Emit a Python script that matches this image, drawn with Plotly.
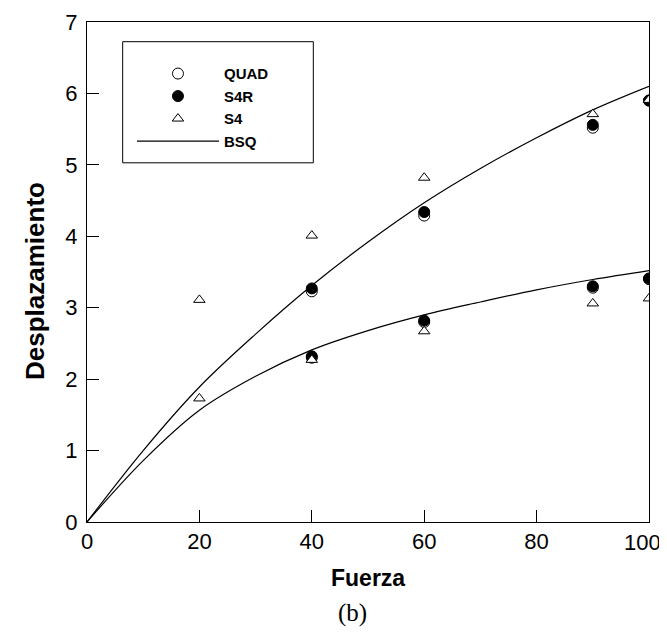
import plotly.graph_objects as go

# BSQ curves
bsq_x = [0, 10, 20, 30, 40, 50, 60, 70, 80, 90, 100]
bsq_upper = [0, 1.00, 1.89, 2.63, 3.31, 3.92, 4.47, 4.95, 5.38, 5.77, 6.10]
bsq_lower = [0, 0.86, 1.565, 2.04, 2.41, 2.68, 2.90, 3.08, 3.25, 3.395, 3.52]

# QUAD (open circles)
quad_x = [40, 60, 90, 100, 40, 60, 90, 100]
quad_y = [3.23, 4.29, 5.52, 5.90, 2.30, 2.80, 3.28, 3.40]

# S4R (filled circles)
s4r_x = [40, 60, 90, 100, 40, 60, 90, 100]
s4r_y = [3.27, 4.34, 5.56, 5.90, 2.32, 2.82, 3.30, 3.41]

# S4 (open triangles)
s4_x = [20, 40, 60, 90, 100, 20, 40, 60, 90, 100]
s4_y = [3.11, 4.01, 4.82, 5.71, 5.91, 1.73, 2.27, 2.67, 3.06, 3.13]

x_ticks = [0, 20, 40, 60, 80, 100]
x_ticktext = ["0", "20", "40", "60", "80", ""]   # last label placed so it fits the page
last_x_label = "100"
y_ticks = [0, 1, 2, 3, 4, 5, 6, 7]

fig = go.Figure()
fig.add_trace(go.Scatter(x=bsq_x, y=bsq_upper, mode="lines", name="BSQ",
                         line=dict(color="black", width=1.2, shape="spline"),
                         legendgroup="bsq", legendrank=4))
fig.add_trace(go.Scatter(x=bsq_x, y=bsq_lower, mode="lines", name="BSQ",
                         line=dict(color="black", width=1.2, shape="spline"),
                         legendgroup="bsq", showlegend=False))
fig.add_trace(go.Scatter(x=quad_x, y=quad_y, mode="markers", name="QUAD",
                         marker=dict(symbol="circle", size=11, color="white",
                                     line=dict(color="black", width=1)),
                         legendrank=1))
fig.add_trace(go.Scatter(x=s4r_x, y=s4r_y, mode="markers", name="S4R",
                         marker=dict(symbol="circle", size=11, color="black",
                                     line=dict(color="black", width=1)),
                         legendrank=2))
fig.add_trace(go.Scatter(x=s4_x, y=s4_y, mode="markers", name="S4",
                         marker=dict(symbol="triangle-up", size=10, color="white",
                                     line=dict(color="black", width=1)),
                         legendrank=3))

# page has an 8px body margin, so the figure is drawn 8px in from the top-left
fig.update_layout(
    width=659, height=631,
    margin=dict(l=79, r=18, t=14, b=117.3, autoexpand=False),
    paper_bgcolor="white", plot_bgcolor="white",
    font=dict(family="Liberation Sans, Arial, sans-serif", color="black"),
    showlegend=True,
    legend=dict(x=0.080, y=0.9294, xanchor="left", yanchor="top",
                bgcolor="rgba(0,0,0,0)", borderwidth=0,
                font=dict(size=15, family="Liberation Sans, Arial, sans-serif",
                          weight="bold"),
                itemwidth=82, tracegroupgap=0),
    shapes=[dict(type="rect", xref="paper", yref="paper",
                 x0=0.0635, x1=0.4027, y0=0.7184, y1=0.9606,
                 line=dict(color="black", width=1))],
    annotations=[
        dict(text=last_x_label, xref="x", yref="y", x=x_ticks[-1], y=0,
             xanchor="right", yanchor="middle", xshift=14, yshift=-20,
             showarrow=False, font=dict(size=22, color="black")),
        dict(text="<b>Fuerza</b>", xref="paper", yref="paper", x=0.5, y=-0.1127,
             xanchor="center", yanchor="middle", showarrow=False,
             font=dict(size=23, color="black")),
        dict(text="<b>Desplazamiento</b>", xref="paper", yref="paper", x=-0.0925, y=0.482,
             xanchor="center", yanchor="middle", showarrow=False, textangle=-90,
             font=dict(size=26, color="black")),
        dict(text="(b)", xref="paper", yref="paper", x=0.473, y=-0.1827,
             xanchor="center", yanchor="middle", showarrow=False,
             font=dict(family="Liberation Serif, Times New Roman, serif",
                       size=25, color="black")),
    ],
)
fig.update_xaxes(range=[0, 100], tickvals=x_ticks, ticktext=x_ticktext,
                 ticks="inside", ticklen=12,
                 tickcolor="black", showline=True, linecolor="black", linewidth=1,
                 mirror=True, showgrid=False, zeroline=False, automargin=False,
                 ticklabeloverflow="allow", tickfont=dict(size=22))
fig.update_yaxes(range=[0, 7], tickvals=y_ticks, ticks="inside", ticklen=12,
                 tickcolor="black", showline=True, linecolor="black", linewidth=1,
                 mirror=True, showgrid=False, zeroline=False, automargin=False,
                 ticklabeloverflow="allow", ticklabelstandoff=4, tickfont=dict(size=22))

fig.write_html("out.html")
